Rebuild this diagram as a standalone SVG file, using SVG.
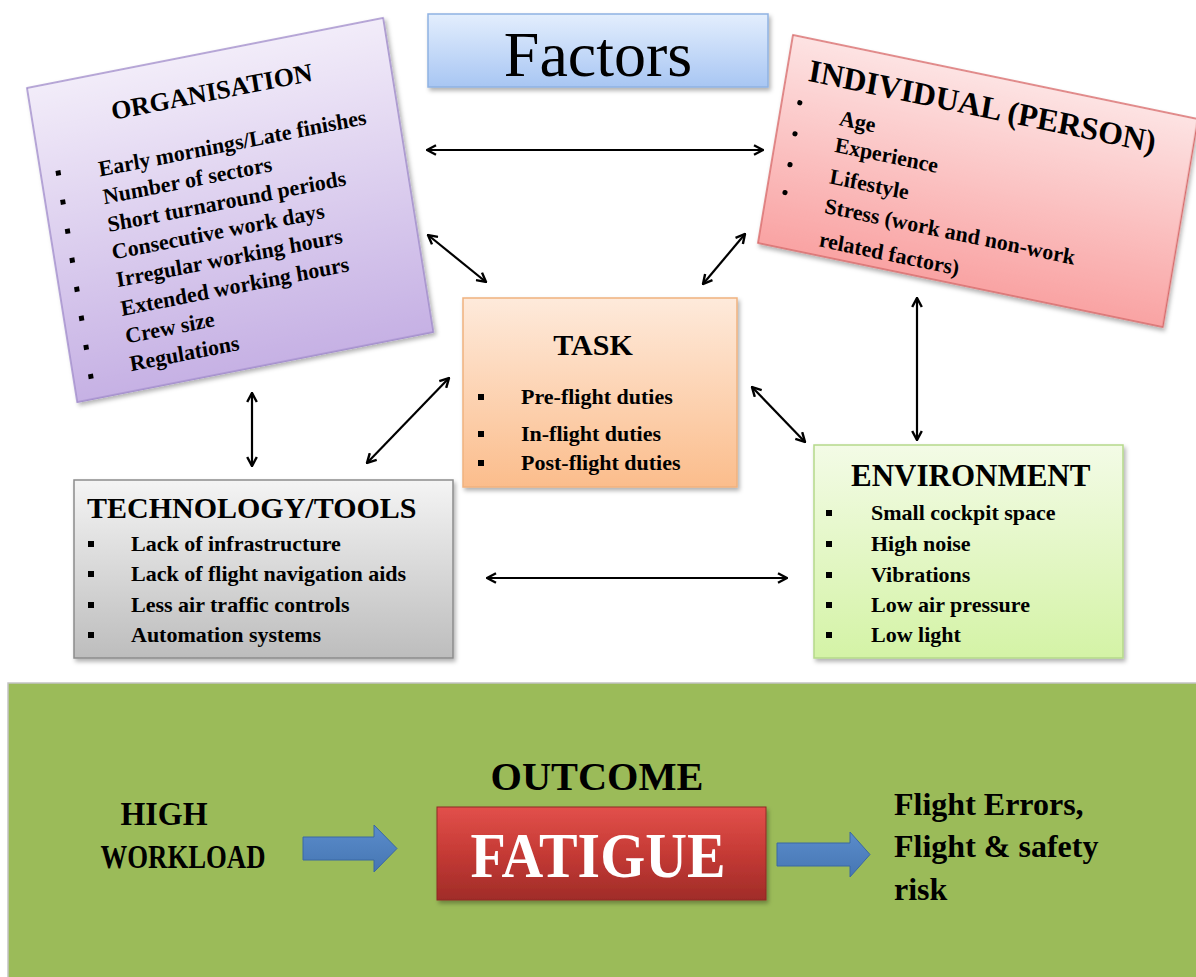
<svg xmlns="http://www.w3.org/2000/svg" width="1196" height="977" viewBox="0 0 1196 977">
<style>
text{font-family:"Liberation Serif","Times New Roman",serif;font-weight:bold;fill:#000}
.title{text-anchor:middle}
.item{font-size:22px}
.conn{stroke:#000;stroke-width:2.2;fill:none;marker-start:url(#ah);marker-end:url(#ah)}
.sq{fill:#000}
</style>
<defs>
<marker id="ah" viewBox="0 0 10 10" refX="9" refY="5" markerWidth="12" markerHeight="12" markerUnits="userSpaceOnUse" orient="auto-start-reverse">
<path d="M1.5,1 L9,5 L1.5,9" fill="none" stroke="#000" stroke-width="2"/>
</marker>
<filter id="sh" x="-10%" y="-10%" width="125%" height="130%">
<feDropShadow dx="2" dy="3" stdDeviation="2" flood-color="#000" flood-opacity="0.3"/>
</filter>
<linearGradient id="gFac" x1="0" y1="0" x2="0" y2="1"><stop offset="0" stop-color="#e3eefd"/><stop offset="1" stop-color="#a8c6f3"/></linearGradient>
<linearGradient id="gOrg" x1="0" y1="0" x2="0" y2="1"><stop offset="0" stop-color="#f2ecf9"/><stop offset="1" stop-color="#c6b1e4"/></linearGradient>
<linearGradient id="gInd" x1="0" y1="0" x2="0" y2="1"><stop offset="0" stop-color="#fde3e3"/><stop offset="1" stop-color="#f9a3a3"/></linearGradient>
<linearGradient id="gTask" x1="0" y1="0" x2="0" y2="1"><stop offset="0" stop-color="#feeadb"/><stop offset="1" stop-color="#fbbd8c"/></linearGradient>
<linearGradient id="gTech" x1="0" y1="0" x2="0" y2="1"><stop offset="0" stop-color="#f4f4f4"/><stop offset="1" stop-color="#bdbdbd"/></linearGradient>
<linearGradient id="gEnv" x1="0" y1="0" x2="0" y2="1"><stop offset="0" stop-color="#f3fbe6"/><stop offset="1" stop-color="#d4f3a6"/></linearGradient>
<linearGradient id="gFat" x1="0" y1="0" x2="0" y2="1"><stop offset="0" stop-color="#e2504b"/><stop offset="0.5" stop-color="#c53a35"/><stop offset="1" stop-color="#a02c28"/></linearGradient>
<linearGradient id="gBlue" x1="0" y1="0" x2="0" y2="1"><stop offset="0" stop-color="#5a8ccb"/><stop offset="1" stop-color="#4676b3"/></linearGradient>
</defs>

<rect x="0" y="0" width="1196" height="977" fill="#ffffff"/>

<g id="factors">
<rect x="428" y="14" width="340" height="73" fill="url(#gFac)" stroke="#8fb2e2" stroke-width="1.5" filter="url(#sh)"/>
<text x="598" y="76" class="title" style="font-weight:normal;font-size:64px">Factors</text>
</g>

<g id="organisation" transform="matrix(0.981,-0.193,0.158,0.988,27,88)">
<rect x="0" y="0" width="363" height="318" fill="url(#gOrg)" stroke="#a18ccb" stroke-width="1.5" filter="url(#sh)"/>
<text x="182" y="48" class="title" font-size="26">ORGANISATION</text>
<g class="sq">
<rect x="15" y="87" width="5" height="5"/><rect x="15" y="116.4" width="5" height="5"/><rect x="15" y="145.8" width="5" height="5"/><rect x="15" y="175.2" width="5" height="5"/><rect x="15" y="204.6" width="5" height="5"/><rect x="15" y="234" width="5" height="5"/><rect x="15" y="263.4" width="5" height="5"/><rect x="15" y="292.8" width="5" height="5"/>
</g>
<text x="58" y="101" class="item">Early mornings/Late finishes</text>
<text x="58" y="129" class="item">Number of sectors</text>
<text x="58" y="157" class="item">Short turnaround periods</text>
<text x="58" y="185" class="item">Consecutive work days</text>
<text x="58" y="213" class="item">Irregular working hours</text>
<text x="58" y="242" class="item">Extended working hours</text>
<text x="58" y="270" class="item">Crew size</text>
<text x="58" y="298" class="item">Regulations</text>
</g>

<g id="individual" transform="matrix(0.978,0.203,-0.166,0.986,793,35)">
<rect x="0" y="0" width="414" height="211" fill="url(#gInd)" stroke="#d86a6a" stroke-width="1.5" filter="url(#sh)"/>
<text x="199" y="42" class="title" font-size="32">INDIVIDUAL (PERSON)</text>
<circle cx="18" cy="65" r="2.6"/><circle cx="18.4" cy="96.4" r="2.6"/><circle cx="18.6" cy="127.7" r="2.6"/><circle cx="18.3" cy="156" r="2.6"/>
<text x="60" y="79" class="item">Age</text>
<text x="60" y="106" class="item">Experience</text>
<text x="60" y="138" class="item">Lifestyle</text>
<text x="60" y="168" class="item">Stress (work and non-work</text>
<text x="60" y="202" class="item">related factors)</text>
</g>

<g id="task">
<rect x="463" y="298" width="274" height="189" fill="url(#gTask)" stroke="#efb27f" stroke-width="1.5" filter="url(#sh)"/>
<text x="593" y="355" class="title" font-size="30">TASK</text>
<rect x="478" y="394" width="6" height="6" class="sq"/><rect x="478" y="431" width="6" height="6" class="sq"/><rect x="478" y="460" width="6" height="6" class="sq"/>
<text x="521" y="404" class="item">Pre-flight duties</text>
<text x="521" y="441" class="item">In-flight duties</text>
<text x="521" y="470" class="item">Post-flight duties</text>
</g>

<g id="technology">
<rect x="74" y="480" width="379" height="178" fill="url(#gTech)" stroke="#8c8c8c" stroke-width="1.5" filter="url(#sh)"/>
<text x="87" y="518" font-size="30">TECHNOLOGY/TOOLS</text>
<rect x="88" y="541" width="6" height="6" class="sq"/><rect x="88" y="571" width="6" height="6" class="sq"/><rect x="88" y="602" width="6" height="6" class="sq"/><rect x="88" y="632" width="6" height="6" class="sq"/>
<text x="131" y="551" class="item">Lack of infrastructure</text>
<text x="131" y="581" class="item">Lack of flight navigation aids</text>
<text x="131" y="612" class="item">Less air traffic controls</text>
<text x="131" y="642" class="item">Automation systems</text>
</g>

<g id="environment">
<rect x="814" y="445" width="309" height="213" fill="url(#gEnv)" stroke="#b5d98a" stroke-width="1.5" filter="url(#sh)"/>
<text x="851" y="486" font-size="31">ENVIRONMENT</text>
<rect x="826" y="510" width="6" height="6" class="sq"/><rect x="826" y="541" width="6" height="6" class="sq"/><rect x="826" y="572" width="6" height="6" class="sq"/><rect x="826" y="602" width="6" height="6" class="sq"/><rect x="826" y="632" width="6" height="6" class="sq"/>
<text x="871" y="520" class="item">Small cockpit space</text>
<text x="871" y="551" class="item">High noise</text>
<text x="871" y="582" class="item">Vibrations</text>
<text x="871" y="612" class="item">Low air pressure</text>
<text x="871" y="642" class="item">Low light</text>
</g>

<g id="connectors">
<line class="conn" x1="427" y1="150" x2="763" y2="150"/>
<line class="conn" x1="428" y1="235" x2="486" y2="282"/>
<line class="conn" x1="745" y1="234" x2="703" y2="284"/>
<line class="conn" x1="917" y1="298" x2="917" y2="440"/>
<line class="conn" x1="252" y1="393" x2="252" y2="466"/>
<line class="conn" x1="449" y1="378" x2="367" y2="463"/>
<line class="conn" x1="752" y1="387" x2="805" y2="442"/>
<line class="conn" x1="487" y1="578" x2="787" y2="578"/>
</g>

<g id="outcome-panel">
<rect x="8" y="683" width="1192" height="300" fill="#9bbb59" stroke="#c4c4c4" stroke-width="1.5"/>
</g>

<g id="high-workload">
<text x="164" y="825" class="title" font-size="34" textLength="87" lengthAdjust="spacingAndGlyphs">HIGH</text>
<text x="183" y="868" class="title" font-size="34" textLength="165" lengthAdjust="spacingAndGlyphs">WORKLOAD</text>
</g>

<g id="arrow-in">
<polygon points="303,837 374,837 374,825 397,848.5 374,872 374,860 303,860" fill="url(#gBlue)" stroke="#3a68a3" stroke-width="1"/>
</g>

<g id="outcome-label">
<text x="597" y="790" class="title" font-size="40" textLength="213" lengthAdjust="spacingAndGlyphs">OUTCOME</text>
</g>

<g id="fatigue">
<rect x="437" y="807" width="329" height="93" fill="url(#gFat)" stroke="#8e2a26" stroke-width="1" filter="url(#sh)"/>
<text x="598" y="877" class="title" font-size="63" textLength="255" lengthAdjust="spacingAndGlyphs" style="fill:#ffffff">FATIGUE</text>
</g>

<g id="arrow-out">
<polygon points="777,843 850,843 850,832 870,854.5 850,877 850,866 777,866" fill="url(#gBlue)" stroke="#3a68a3" stroke-width="1"/>
</g>

<g id="result">
<text x="894" y="815" font-size="32">Flight Errors,</text>
<text x="894" y="857" font-size="32">Flight &amp; safety</text>
<text x="894" y="900" font-size="32">risk</text>
</g>
</svg>
